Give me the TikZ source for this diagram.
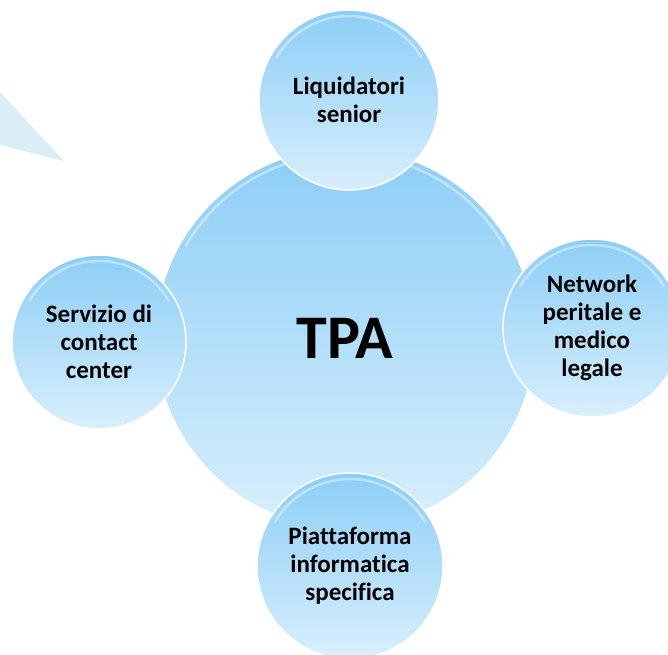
\documentclass[tikz,border=0pt]{standalone}
\usepackage{fontspec}
\setmainfont{Carlito}[Ligatures=NoCommon]
\definecolor{bubtop}{RGB}{140,206,246}
\definecolor{bubbot}{RGB}{216,239,252}
\definecolor{wedge}{RGB}{218,238,245}

\begin{document}
\begin{tikzpicture}[x=1pt,y=1pt,
	bubble/.style={circle, inner sep=0pt, minimum size=2*#1,
		draw=white, line width=1.5pt,
		top color=bubtop, bottom color=bubbot,
		align=center, font=\fontsize{25}{28}\selectfont\bfseries,
		path picture={\draw[white, opacity=.4, line width=2.5pt]
			(path picture bounding box.center) ++(150:#1-6) arc (150:30:#1-6);}}]

	\useasboundingbox (0,0) rectangle (668,654);

	\coordinate (w1) at (0,562);
	\coordinate (w2) at (64,493);
	\coordinate (w3) at (0,509);
	\fill[wedge] (w1) -- (w2) -- (w3) -- cycle;

	\node[bubble=190, font=\fontsize{62}{70}\selectfont\bfseries] (tpa) at (345,316) {TPA};

	\node[bubble=90] (liq) at (349,554) {Liquidatori\\senior};
	\node[bubble=89] (net) at (592,326) {Network\\peritale e\\medico\\legale};
	\node[bubble=93] (pia) at (350,88) {Piattaforma\\informatica\\specifica};
	\node[bubble=87] (ser) at (99,312) {Servizio di\\contact\\center};

\end{tikzpicture}
\end{document}
